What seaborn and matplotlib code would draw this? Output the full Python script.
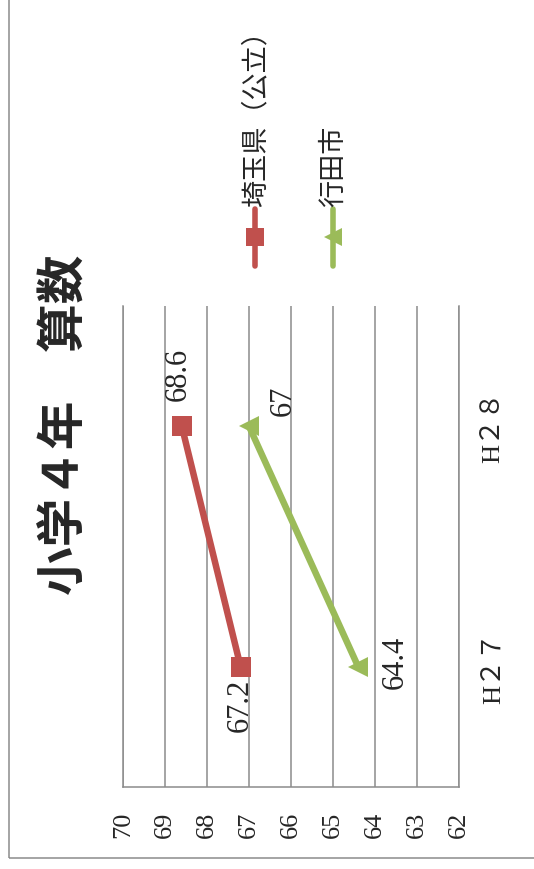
import matplotlib
matplotlib.use('Agg')
import matplotlib.pyplot as plt
import seaborn as sns
import pandas as pd
from matplotlib.lines import Line2D
from matplotlib.patches import Rectangle

# 年度（カテゴリ）と系列ごとの平均正答率
years = ['H２７', 'H２８']
series_names = ['埼玉県（公立）', '行田市']
saitama = [67.2, 68.6]
gyoda = [64.4, 67.0]
value_ticks = [62, 63, 64, 65, 66, 67, 68, 69, 70]
title = '小学４年　算数'

sns.set_theme(style='white')
plt.rcParams['font.family'] = ['Liberation Serif', 'Noto Sans CJK JP']

rows = []
for name, vals in zip(series_names, [saitama, gyoda]):
    for i, (yr, v) in enumerate(zip(years, vals)):
        rows.append({'系列': name, '年度': yr, 'pos': i, '値': v})
df = pd.DataFrame(rows)

W, H = 534, 870
fig = plt.figure(figsize=(W / 100, H / 100), dpi=100)
ax = fig.add_axes([123 / W, 1 - 788 / H, 336 / W, 481 / H])

colors = {'埼玉県（公立）': '#C0504D', '行田市': '#9BBB59'}
markers = {'埼玉県（公立）': 's', '行田市': '<'}
grid_col = '#8c8c8c'

# 縦向きに描いたグラフ：横軸が得点、縦軸が年度
sns.lineplot(data=df, x='値', y='pos', hue='系列', style='系列',
             palette=colors, markers=markers, dashes=False, sort=False,
             estimator=None, linewidth=4.7, markersize=14,
             markeredgewidth=0, legend=False, ax=ax)

ax.set_xlim(70, 62)
ax.set_ylim(-0.5, 1.5)
ax.set_xticks(value_ticks)
ax.set_xticklabels([str(t) for t in value_ticks], rotation=90, fontsize=19)
ax.tick_params(axis='x', length=0, pad=17)
ax.grid(axis='x', color=grid_col, lw=1.1)
ax.grid(axis='y', visible=False)
ax.set_axisbelow(True)
ax.set_xlabel('')
ax.set_ylabel('')

ax.spines['top'].set_visible(False)
for s in ['left', 'right', 'bottom']:
    ax.spines[s].set_color(grid_col)
    ax.spines[s].set_linewidth(1.1)

ax.yaxis.tick_right()
ax.set_yticks([0, 1])
ax.set_yticklabels(years, rotation=90, va='center', ha='left', fontsize=19)
ax.tick_params(axis='y', length=0, pad=17)

# データラベル
label_offsets = {
    '埼玉県（公立）': [(0, -38), (-4, 53)],
    '行田市': [(37, 5), (34, 26)],
}
for name, vals in zip(series_names, [saitama, gyoda]):
    for i, v in enumerate(vals):
        ax.annotate(f'{v:g}', xy=(v, i), xytext=label_offsets[name][i],
                    textcoords='offset pixels', rotation=90,
                    ha='center', va='center', fontsize=22,
                    family=['Liberation Serif'])

# 凡例（縦書き）
legend_x = [255, 333]
for name, lx in zip(series_names, legend_x):
    fx = lx / W
    fig.add_artist(Line2D([fx, fx], [1 - 210 / H, 1 - 267 / H],
                          color=colors[name], lw=4, solid_capstyle='round',
                          transform=fig.transFigure))
    fig.add_artist(Line2D([fx], [1 - 238 / H], marker=markers[name],
                          markersize=13, markeredgewidth=0,
                          color=colors[name], transform=fig.transFigure))
    fig.text(fx + 1 / W, 1 - 207 / H, name, rotation=90, ha='center',
             va='bottom', fontsize=19.5, family=['Noto Sans CJK JP'])

# タイトル
fig.text(65 / W, 1 - 425 / H, title, rotation=90, ha='center', va='center',
         fontsize=35, fontweight='bold', family=['Noto Sans CJK JP'])

# 外枠
fig.add_artist(Rectangle((9 / W, 1 - 859 / H), 2, 2,
                         transform=fig.transFigure, fill=False,
                         ec=grid_col, lw=1.1))

fig.savefig('out.png', dpi=100)
